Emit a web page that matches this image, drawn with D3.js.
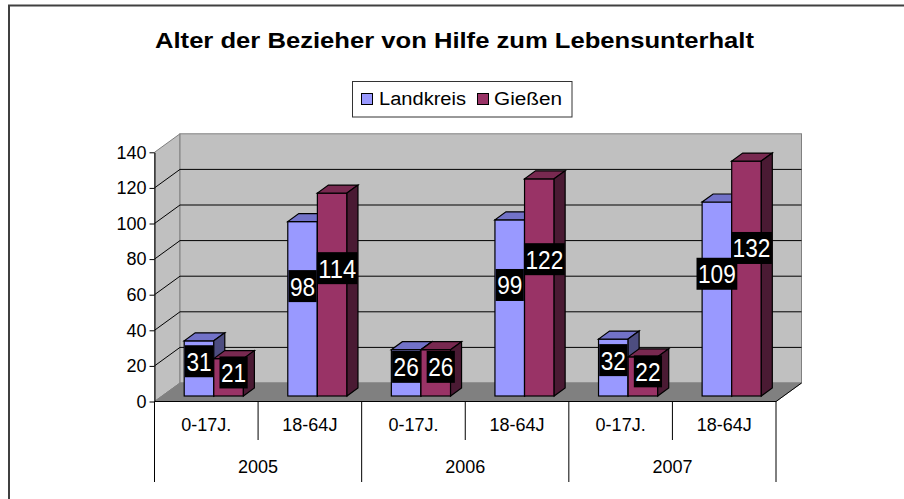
<!DOCTYPE html>
<html><head><meta charset="utf-8">
<script src="https://cdn.jsdelivr.net/npm/d3@7"></script>
<style>body{margin:0;background:#fff}svg{display:block}text{font-family:"Liberation Sans",Arial,sans-serif}</style>
</head><body>
<script>
const title = "Alter der Bezieher von Hilfe zum Lebensunterhalt";
const categories = ["0-17J.","18-64J","0-17J.","18-64J","0-17J.","18-64J"];
const years = ["2005","2006","2007"];
const seriesNames = ["Landkreis","Gießen"];
const landkreis = [31,98,26,99,32,109];
const giessen = [21,114,26,122,22,132];
const yTicks = [0,20,40,60,80,100,120,140];

const W=904,H=499;
const svg=d3.select("body").append("svg").attr("width",W).attr("height",H);
svg.append("rect").attr("width",W).attr("height",H).attr("fill","#fff");
svg.append("rect").attr("x",9).attr("y",5.5).attr("width",1000).attr("height",1000)
  .attr("fill","none").attr("stroke","#404040").attr("stroke-width",2);

// geometry
const X0=154.5,X1=776,Y0=401.5,YT=152.3;
const DX=25.5,DY=-18.5;        // wall depth
const BX=7.5,BY=-5.5;          // bar front offset inside depth
const BDX=11,BDY=-8;           // bar depth
const y=d3.scaleLinear().domain([0,140]).range([Y0,YT]);
const x=d3.scaleBand().domain(d3.range(categories.length)).range([X0,X1]);
const xs=d3.scaleBand().domain([0,1]).range([0,x.bandwidth()]).paddingOuter(0.75);
const colors=[{front:"#9999FF",top:"#7272C8",side:"#4D4D80"},{front:"#993366",top:"#782950",side:"#4A1A33"}];

const poly=pts=>pts.map(p=>p.join(",")).join(" ");
const g=svg.append("g");
// left wall
g.append("polygon").attr("points",poly([[X0,y(140)],[X0+DX,y(140)+DY],[X0+DX,Y0+DY],[X0,Y0]]))
 .attr("fill","#C0C0C0").attr("stroke","#808080");
// back wall
g.append("rect").attr("x",X0+DX).attr("y",y(140)+DY).attr("width",X1-X0).attr("height",Y0-y(140))
 .attr("fill","#C0C0C0").attr("stroke","#808080");
// floor
g.append("polygon").attr("points",poly([[X0,Y0],[X0+DX,Y0+DY],[X1+DX,Y0+DY],[X1,Y0]]))
 .attr("fill","#808080").attr("stroke","#808080");
g.append("line").attr("x1",X1).attr("y1",Y0).attr("x2",X1+DX).attr("y2",Y0+DY).attr("stroke","#000");
// gridlines
yTicks.filter(v=>v>0&&v<140).forEach(v=>{
  g.append("line").attr("x1",X0).attr("y1",y(v)).attr("x2",X0+DX).attr("y2",y(v)+DY).attr("stroke","#000");
  g.append("line").attr("x1",X0+DX).attr("y1",y(v)+DY).attr("x2",X1+DX).attr("y2",y(v)+DY).attr("stroke","#000");
});

// bars
const series=[landkreis,giessen];
const labels=[];
categories.forEach((c,i)=>{
  series.forEach((vals,s)=>{
    const v=vals[i];
    const xl=x(i)+xs(s)+BX, xr=xl+xs.bandwidth();
    const yb=Y0+BY, yt=y(v)+BY;
    const col=colors[s];
    g.append("rect").attr("x",xl).attr("y",yt).attr("width",xr-xl).attr("height",yb-yt)
      .attr("fill",col.front).attr("stroke","#000").attr("stroke-width",1.2);
    g.append("polygon").attr("points",poly([[xl,yt],[xr,yt],[xr+BDX,yt+BDY],[xl+BDX,yt+BDY]]))
      .attr("fill",col.top).attr("stroke","#000").attr("stroke-width",1.2);
    g.append("polygon").attr("points",poly([[xr,yt],[xr+BDX,yt+BDY],[xr+BDX,yb+BDY],[xr,yb]]))
      .attr("fill",col.side).attr("stroke","#000").attr("stroke-width",1.2);
    labels.push({v, cx:(xl+xr)/2+(s===1?5:0), cy:yb-(yb-yt)*0.63});
  });
});

// y axis
const ya=svg.append("g").attr("transform",`translate(${X0},0)`)
  .call(d3.axisLeft(y).tickValues(yTicks).tickSize(5).tickSizeOuter(0).tickPadding(3));
ya.select(".domain").attr("stroke","#000");
ya.selectAll(".tick line").attr("stroke","#000");
ya.selectAll("text").attr("font-size",18).attr("fill","#000").style("font-family",'"Liberation Sans",Arial,sans-serif');

// category axis
svg.append("line").attr("x1",X0).attr("y1",Y0).attr("x2",X1).attr("y2",Y0).attr("stroke","#000");
d3.range(categories.length+1).forEach(k=>{
  const xx=X0+k*x.step();
  svg.append("line").attr("x1",xx).attr("x2",xx).attr("y1",Y0).attr("y2",k%2===0?482:440).attr("stroke","#000");
});
categories.forEach((c,i)=>{
  svg.append("text").attr("x",x(i)+x.bandwidth()/2).attr("y",431).attr("text-anchor","middle")
    .attr("font-size",18).text(c);
});
years.forEach((yr,j)=>{
  svg.append("text").attr("x",x(2*j)+x.bandwidth()).attr("y",473).attr("text-anchor","middle")
    .attr("font-size",18).text(yr);
});

// data labels
labels.forEach(l=>{
  const txt=String(l.v), tw=txt.length*12.6, bw=tw+3, bh=32;
  svg.append("rect").attr("x",l.cx-bw/2).attr("y",l.cy-bh/2).attr("width",bw).attr("height",bh).attr("fill","#000");
  svg.append("text").attr("x",l.cx).attr("y",l.cy+9.5).attr("text-anchor","middle")
    .attr("font-size",25).attr("fill","#fff").attr("textLength",tw).attr("lengthAdjust","spacingAndGlyphs").text(txt);
});

// title
svg.append("text").attr("x",454.5).attr("y",47.5).attr("text-anchor","middle").attr("font-size",22)
  .attr("font-weight","bold").attr("textLength",599).attr("lengthAdjust","spacingAndGlyphs").text(title);

// legend
const lg=svg.append("g");
lg.append("rect").attr("x",352.5).attr("y",81.5).attr("width",219.5).attr("height",35.5)
  .attr("fill","#fff").attr("stroke","#333");
const legItems=[{sx:361,tx:379,tl:87},{sx:477,tx:494,tl:68}];
seriesNames.forEach((n,s)=>{
  const it=legItems[s];
  lg.append("rect").attr("x",it.sx+0.5).attr("y",93.5).attr("width",11).attr("height",11)
    .attr("fill",colors[s].front).attr("stroke","#000");
  lg.append("text").attr("x",it.tx).attr("y",105).attr("font-size",18).attr("textLength",it.tl)
    .attr("lengthAdjust","spacingAndGlyphs").text(n);
});
</script>
</body></html>
